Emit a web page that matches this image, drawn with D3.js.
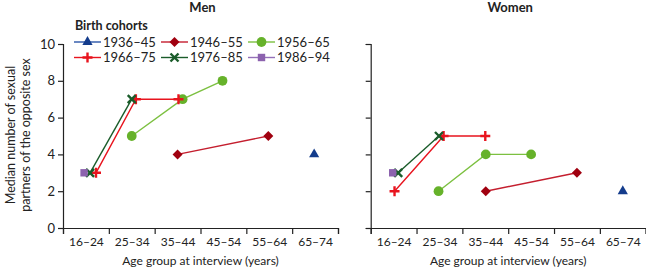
<!DOCTYPE html>
<html>
<head>
<meta charset="utf-8">
<script src="https://cdn.jsdelivr.net/npm/d3@7"></script>
<style>
  body { margin: 0; background: #fff; }
  text { font-family: Lato, "Open Sans", sans-serif; fill: #222; }
  .domain, .tick line { stroke: #222; stroke-width: 1.2px; }
</style>
</head>
<body>
<div id="chart"></div>
<script>
// age groups on the x axis
var ageGroups = ["16–24", "25–34", "35–44", "45–54", "55–64", "65–74"]
var yTicks = [0, 2, 4, 6, 8, 10]
var cohorts = ["1936–45", "1946–55", "1956–65", "1966–75", "1976–85", "1986–94"]

// x = position in age-group units (0 = left edge of 16–24), y = median partners
var menX = [[5.48], [2.5, 4.48], [1.5, 2.61, 3.48], [0.72, 1.59, 2.52], [0.59, 1.5], [0.46]]
var menY = [[4], [4, 5], [5, 7, 8], [3, 7, 7], [3, 7], [3]]
var womenX = [[5.5], [2.51, 4.5], [1.48, 2.51, 3.5], [0.52, 1.59, 2.5], [0.6, 1.49], [0.48]]
var womenY = [[2], [2, 3], [2, 4, 4], [2, 5, 5], [3, 5], [3]]

var markColor = ["#143c8c", "#a0000f", "#66b22a", "#e8141e", "#1a5c2a", "#8c62ae"]
var lineColor = ["#2a55a8", "#c41e2e", "#7cc040", "#e8141e", "#1a5c2a", "#9470b8"]
var shapes = [d3.symbolTriangle, "diamond", d3.symbolCircle, "plus", "cross", d3.symbolSquare]
var sizes = [45, 50, 75, 0, 0, 55]

var width = 646, height = 269
var plotTop = 44, plotBottom = 228

var svg = d3.select("#chart").append("svg")
  .attr("width", width).attr("height", height)

var y = d3.scaleLinear().domain([0, 10]).range([plotBottom, plotTop])

function marker(g, i, px, py) {
  var c = markColor[i]
  if (shapes[i] == "plus") {
    g.append("path").attr("d", "M" + (px - 5) + "," + py + "H" + (px + 5) + "M" + px + "," + (py - 5) + "V" + (py + 5))
      .attr("stroke", c).attr("stroke-width", 2.4)
  } else if (shapes[i] == "cross") {
    g.append("path").attr("d", "M" + (px - 4) + "," + (py - 4) + "L" + (px + 4) + "," + (py + 4) + "M" + (px + 4) + "," + (py - 4) + "L" + (px - 4) + "," + (py + 4))
      .attr("stroke", c).attr("stroke-width", 2.4)
  } else if (shapes[i] == "diamond") {
    g.append("path").attr("d", d3.symbol().type(d3.symbolSquare).size(sizes[i])())
      .attr("transform", "translate(" + px + "," + py + ") rotate(45)")
      .attr("fill", c)
  } else {
    g.append("path").attr("d", d3.symbol().type(shapes[i]).size(sizes[i])())
      .attr("transform", "translate(" + px + "," + py + ")")
      .attr("fill", c)
  }
}

function panel(x0, x1, title, xs, ys, showLabels) {
  var x = d3.scaleLinear().domain([0, 6]).range([x0, x1])
  var g = svg.append("g")

  g.append("g").attr("transform", "translate(0," + plotBottom + ")")
    .call(d3.axisBottom(x).tickValues(d3.range(7)).tickSize(6).tickFormat(""))
  g.append("g").attr("transform", "translate(0," + plotBottom + ")")
    .call(d3.axisBottom(x).tickValues(d3.range(6).map(function(d) { return d + 0.5 }))
      .tickSize(0).tickPadding(9).tickFormat(function(d, i) { return ageGroups[i] }))
    .call(function(a) { a.select(".domain").remove() })
    .selectAll("text").style("font-size", "12px")

  g.append("g").attr("transform", "translate(" + x0 + ",0)")
    .call(d3.axisLeft(y).tickValues(yTicks).tickSize(5).tickPadding(3)
      .tickFormat(showLabels ? d3.format("d") : ""))
    .selectAll("text").style("font-size", "13px")

  g.append("text").attr("x", (x0 + x1) / 2).attr("y", 265).attr("text-anchor", "middle")
    .style("font-size", "12px").text("Age group at interview (years)")
  g.append("text").attr("x", (x0 + x1) / 2 + 2).attr("y", 12).attr("text-anchor", "middle")
    .style("font-size", "13px").style("font-weight", "bold").text(title)

  cohorts.forEach(function(c, i) {
    var pts = xs[i].map(function(v, j) { return [x(v), y(ys[i][j])] })
    g.append("path").attr("d", d3.line()(pts)).attr("fill", "none")
      .attr("stroke", lineColor[i]).attr("stroke-width", 1.4)
    pts.forEach(function(p) { marker(g, i, p[0], p[1]) })
  })
}

panel(63, 338, "Men", menX, menY, true)
panel(370.7, 645.7, "Women", womenX, womenY, false)

// y axis title
svg.append("text").attr("transform", "translate(15,135) rotate(-90)").attr("text-anchor", "middle")
  .style("font-size", "12.5px").text("Median number of sexual")
svg.append("text").attr("transform", "translate(30,135) rotate(-90)").attr("text-anchor", "middle")
  .style("font-size", "12.5px").text("partners of the opposite sex")

// legend
svg.append("text").attr("x", 75).attr("y", 30).style("font-size", "12.5px")
  .style("font-weight", "bold").text("Birth cohorts")
var legend = svg.selectAll(".legend").data(cohorts).enter().append("g")
  .attr("class", "legend")
  .attr("transform", function(d, i) { return "translate(" + (74 + (i % 3) * 87) + "," + (42 + Math.floor(i / 3) * 15.5) + ")" })
legend.each(function(d, i) {
  var lg = d3.select(this)
  lg.append("line").attr("x1", 0).attr("x2", 27).attr("stroke", lineColor[i]).attr("stroke-width", 1.4)
  marker(lg, i, 13.5, 0)
  lg.append("text").attr("x", 29).attr("y", 4.5).style("font-size", "13px").text(d)
})
</script>
</body>
</html>
